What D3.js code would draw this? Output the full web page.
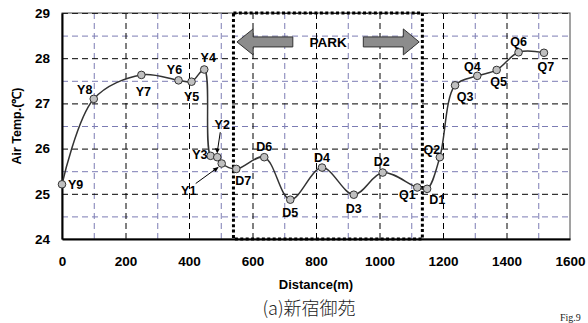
<!DOCTYPE html>
<head>
<meta charset="utf-8">
<style>
  body { margin: 0; background: #fff; }
  text { font-family: Arial, "Liberation Sans", sans-serif; }
</style>
</head>
<body>
<svg width="588" height="323" id="svgMain"></svg>
<script src="https://d3js.org/d3.v7.min.js"></script>
<script>
//-----------------------------------------------------
//              DATA
//-----------------------------------------------------
var names     = ["Y9","Y8","Y7","Y6","Y5","Y4","Y3","Y2","Y1","D7","D6","D5","D4","D3","D2","Q1","D1","Q2","Q3","Q4","Q5","Q6","Q7"];
var distances = [0, 100, 250, 367, 408, 448, 468, 489, 503, 549, 637, 719, 819, 919, 1010, 1119, 1150, 1190, 1238, 1308, 1369, 1438, 1518];
var temps     = [25.21, 27.1, 27.63, 27.51, 27.48, 27.75, 25.84, 25.81, 25.67, 25.55, 25.81, 24.87, 25.58, 24.98, 25.47, 25.14, 25.11, 25.81, 27.4, 27.61, 27.74, 28.13, 28.12];

var xTicks = [0, 200, 400, 600, 800, 1000, 1200, 1400, 1600];
var yTicks = [24, 25, 26, 27, 28, 29];
var parkRange = [540, 1135];

//-----------------------------------------------------
//              DIMENSIONS & MARGINS
//-----------------------------------------------------
var svg = d3.select("svg"),
    margin = {top: 13, right: 18, bottom: 84, left: 62},
    width = svg.attr("width") - margin.left - margin.right,
    height = svg.attr("height") - margin.top - margin.bottom,
    g = svg.append("g")
      .attr("transform", "translate(" + margin.left + "," + margin.top + ")");

var x = d3.scaleLinear().domain([0, 1600]).range([0, width]),
    y = d3.scaleLinear().domain([24, 29]).range([height, 0]);

var points = names.map(function(n, i) { return {name: n, d: distances[i], t: temps[i]}; });

//-----------------------------------------------------
//              GRIDLINES (minor blue, major black)
//-----------------------------------------------------
g.append("g")
    .call(d3.axisBottom(x).tickValues(d3.range(100, 1600, 200)).tickSize(height).tickFormat(""))
    .call(function(a) { a.select(".domain").remove(); })
    .selectAll("line").attr("stroke", "#7c7cb4").attr("stroke-dasharray", "6,4");

g.append("g")
    .call(d3.axisLeft(y).tickValues([24.5, 25.5, 26.5, 27.5, 28.5]).tickSize(-width).tickFormat(""))
    .call(function(a) { a.select(".domain").remove(); })
    .selectAll("line").attr("stroke", "#7c7cb4").attr("stroke-dasharray", "6,4");

g.append("g")
    .call(d3.axisBottom(x).tickValues([200, 400, 600, 800, 1000, 1200, 1400]).tickSize(height).tickFormat(""))
    .call(function(a) { a.select(".domain").remove(); })
    .selectAll("line").attr("stroke", "#000").attr("stroke-dasharray", "6,4");

g.append("g")
    .call(d3.axisLeft(y).tickValues([25, 26, 27, 28, 29]).tickSize(-width).tickFormat(""))
    .call(function(a) { a.select(".domain").remove(); })
    .selectAll("line").attr("stroke", "#000").attr("stroke-dasharray", "6,4");

// plot border (top / right thin)
g.append("rect")
    .attr("width", width).attr("height", height)
    .attr("fill", "none").attr("stroke", "#444").attr("stroke-width", 1);

//-----------------------------------------------------
//              AXES
//-----------------------------------------------------
var xAxis = g.append("g")
    .attr("transform", "translate(0," + height + ")")
    .call(d3.axisBottom(x).tickValues(xTicks).tickFormat(d3.format("d")).tickSize(0).tickPadding(17));
xAxis.select(".domain").attr("stroke", "#000").attr("stroke-width", 2);
xAxis.selectAll("text").attr("font-size", 13.5).attr("font-weight", "bold").attr("fill", "#000")
    .style("font-family", "Arial, 'Liberation Sans', sans-serif");

var yAxis = g.append("g")
    .call(d3.axisLeft(y).tickValues(yTicks).tickFormat(d3.format("d")).tickSize(0).tickPadding(12));
yAxis.select(".domain").attr("stroke", "#000").attr("stroke-width", 2);
yAxis.selectAll("text").attr("font-size", 13.5).attr("font-weight", "bold").attr("fill", "#000")
    .style("font-family", "Arial, 'Liberation Sans', sans-serif");

svg.append("text")
    .attr("transform", "translate(21," + (margin.top + height / 2) + ") rotate(-90)")
    .attr("text-anchor", "middle")
    .attr("font-size", 12.5).attr("font-weight", "bold")
    .text("Air Temp.(℃)");

svg.append("text")
    .attr("x", 316).attr("y", 289)
    .attr("text-anchor", "middle")
    .attr("font-size", 13).attr("font-weight", "bold")
    .text("Distance(m)");

svg.append("text")
    .attr("x", 309).attr("y", 315)
    .attr("text-anchor", "middle")
    .attr("font-size", 18)
    .attr("fill", "#222")
    .style("font-family", "'Noto Sans CJK JP', sans-serif")
    .style("font-weight", "300")
    .text("(a)新宿御苑");

svg.append("text")
    .attr("x", 560).attr("y", 321)
    .attr("font-size", 10)
    .attr("fill", "#222")
    .style("font-family", "'Liberation Serif', serif")
    .text("Fig.9");

//-----------------------------------------------------
//              PARK BOX & ARROWS
//-----------------------------------------------------
g.append("rect")
    .attr("x", x(parkRange[0])).attr("y", y(29))
    .attr("width", x(parkRange[1]) - x(parkRange[0]))
    .attr("height", y(24) - y(29))
    .attr("fill", "none").attr("stroke", "#000")
    .attr("stroke-width", 3).attr("stroke-dasharray", "3,2.4");

function arrowPath(tip, base, tail) {
  var yc = y(28.36), bh = 5, hh = 13;
  return "M" + x(tip) + "," + yc +
         "L" + x(base) + "," + (yc - hh) +
         "L" + x(base) + "," + (yc - bh) +
         "L" + x(tail) + "," + (yc - bh) +
         "L" + x(tail) + "," + (yc + bh) +
         "L" + x(base) + "," + (yc + bh) +
         "L" + x(base) + "," + (yc + hh) + "Z";
}
g.append("path").attr("d", arrowPath(551, 602, 727))
    .attr("fill", "#8c8c8c").attr("stroke", "#333").attr("stroke-width", 1);
g.append("path").attr("d", arrowPath(1125, 1075, 949))
    .attr("fill", "#8c8c8c").attr("stroke", "#333").attr("stroke-width", 1);

g.append("text")
    .attr("x", x(838)).attr("y", y(28.36) + 5)
    .attr("text-anchor", "middle")
    .attr("font-size", 13.5).attr("font-weight", "bold")
    .text("PARK");

//-----------------------------------------------------
//              LINE & MARKERS
//-----------------------------------------------------
var line = d3.line()
    .curve(d3.curveCatmullRom.alpha(0.5))
    .x(function(d) { return x(d.d); })
    .y(function(d) { return y(d.t); });

g.append("path")
    .datum(points)
    .attr("d", line)
    .attr("fill", "none").attr("stroke", "#333").attr("stroke-width", 1.5);

g.selectAll(".pt")
    .data(points)
  .enter().append("circle")
    .attr("class", "pt")
    .attr("cx", function(d) { return x(d.d); })
    .attr("cy", function(d) { return y(d.t); })
    .attr("r", 3.8)
    .attr("fill", "#c0c0c0").attr("stroke", "#333").attr("stroke-width", 1);

// label offsets in px: [dx, dy, anchor]
var labelPos = {
  Y9: [6, 5, "start"],  Y8: [-9, -5, "middle"], Y7: [2, 21, "middle"], Y6: [-4, -6, "middle"],
  Y5: [0, 19, "middle"], Y4: [4, -8, "middle"], Y3: [-3, 3, "end"],  Y2: [5, -28, "middle"],
  Y1: [-33, 31, "middle"], D7: [7, 16, "middle"], D6: [0, -6, "middle"], D5: [0, 17, "middle"],
  D4: [0, -6, "middle"], D3: [0, 18, "middle"], D2: [-1, -7, "middle"], Q1: [-10, 12, "middle"],
  D1: [10, 15, "middle"], Q2: [-8, -3, "middle"], Q3: [10, 16, "middle"], Q4: [-5, -5, "middle"],
  Q5: [2, 16, "middle"], Q6: [0, -6, "middle"], Q7: [2, 18, "middle"]
};

g.selectAll(".lbl")
    .data(points)
  .enter().append("text")
    .attr("class", "lbl")
    .attr("x", function(d) { return x(d.d) + labelPos[d.name][0]; })
    .attr("y", function(d) { return y(d.t) + labelPos[d.name][1]; })
    .attr("text-anchor", function(d) { return labelPos[d.name][2]; })
    .attr("font-size", 12.5).attr("font-weight", "bold")
    .text(function(d) { return d.name; });

// pointer lines for Y2 and Y1
var y2 = points[7], y1 = points[8];
g.append("line")
    .attr("x1", x(y2.d) + 3).attr("y1", y(y2.t) - 25)
    .attr("x2", x(y2.d)).attr("y2", y(y2.t) - 5)
    .attr("stroke", "#000").attr("stroke-width", 1);
g.append("path")
    .attr("d", "M" + x(y2.d) + "," + (y(y2.t) - 4) + "l-2.5,-5l5,0.6z");
g.append("line")
    .attr("x1", x(y1.d) - 26).attr("y1", y(y1.t) + 20)
    .attr("x2", x(y1.d) - 4).attr("y2", y(y1.t) + 4)
    .attr("stroke", "#000").attr("stroke-width", 1);
g.append("path")
    .attr("d", "M" + (x(y1.d) - 3) + "," + (y(y1.t) + 3.5) + "l-6,1.5l3,3.5z");
</script>
</body>
